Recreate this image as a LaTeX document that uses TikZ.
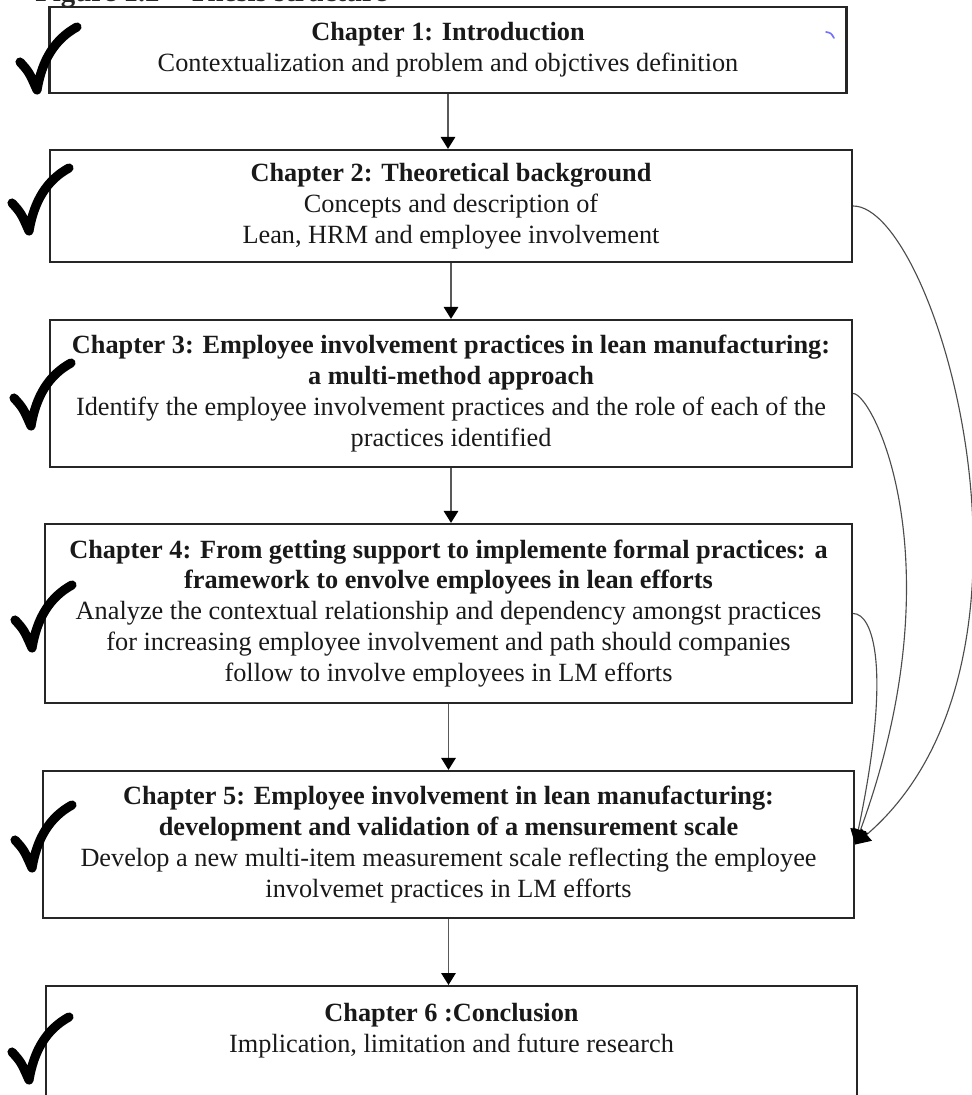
\documentclass[tikz,border=0pt]{standalone}
\usepackage{fontspec}
\setmainfont{Liberation Serif}
\usetikzlibrary{arrows.meta}
\tikzstyle{chapter}=[draw=black!85,line width=1.5pt,align=center,inner sep=0pt,text=black!90,font=\fontsize{18.7}{22}\selectfont]
\tikzstyle{flow}=[draw=black!65,line width=1.3pt,-{Triangle[width=0.36cm,length=0.3cm,color=black]}]
\tikzstyle{link}=[draw=black!70,line width=0.8pt,-{Triangle[width=0.4cm,length=0.38cm,color=black]}]
\tikzstyle{tickmark}=[draw=black,line width=6.5pt,line cap=round,line join=round]

\begin{document}
\begin{tikzpicture}[x=0.025cm,y=-0.025cm]
    \useasboundingbox (0,0) rectangle (971,1095);
    % heading, cut off by the top edge
    \node[anchor=base west,inner sep=0pt,text=black!85,font=\fontsize{20.5}{24}\selectfont\bfseries] (heading) at (35,2) {Figure 1.2 -- Thesis structure};

    % First the chapter boxes
    \node[chapter,line width=2pt,minimum width=19.9cm,minimum height=2.15cm] (ch1) at (448,50)
        {\textbf{Chapter 1: Introduction}\\ Contextualization and problem and objctives definition};
    \node[chapter,minimum width=20.05cm,minimum height=2.8cm] (ch2) at (451,206)
        {\textbf{Chapter 2: Theoretical background}\\ Concepts and description of\\ Lean, HRM and employee involvement};
    \node[chapter,minimum width=20.05cm,minimum height=3.675cm] (ch3) at (451,393.5)
        {\textbf{Chapter 3: Employee involvement practices in lean manufacturing:}\\ \textbf{a multi-method approach}\\
         Identify the employee involvement practices and the role of each of the\\ practices identified};
    \node[chapter,minimum width=20.175cm,minimum height=4.475cm] (ch4) at (448.5,613.5)
        {\textbf{Chapter 4: From getting support to implemente formal practices: a}\\ \textbf{framework to envolve employees in lean efforts}\\
         Analyze the contextual relationship and dependency amongst practices\\ for increasing employee involvement and path should companies\\ follow to involve employees in LM efforts};
    \node[chapter,minimum width=20.275cm,minimum height=3.675cm] (ch5) at (448.5,844.5)
        {\textbf{Chapter 5: Employee involvement in lean manufacturing:}\\ \textbf{development and validation of a mensurement scale}\\
         Develop a new multi-item measurement scale reflecting the employee\\ involvemet practices in LM efforts};
    \node[chapter,anchor=north,minimum width=20.275cm,inner ysep=12pt,text depth=3cm] (ch6) at (451.5,985)
        {\textbf{Chapter 6 :Conclusion}\\ Implication, limitation and future research};

    % Then the arrows from one chapter to the next
    \foreach \source/\dest in {ch1/ch2, ch2/ch3, ch3/ch4, ch4/ch5, ch5/ch6}
        \path[flow] (\source.south) -- (\source.south |- \dest.north);

    % chapters 2, 3 and 4 also feed chapter 5
    \path[link] (ch2.east) .. controls +(83,0) and +(214,-184) .. (ch5.east);
    \path[link] (ch3.east) .. controls +(20,0) and +(103,-282) .. (ch5.east);
    \path[link] (ch4.east) .. controls +(20,0) and +(37,-176) .. (ch5.east);

    % hand-drawn ticks
    \foreach \pos in {(20,62), (12,203), (14,398), (15,620), (15,840), (12,1052)}
        \draw[tickmark,shift={\pos}] (0,0) .. controls (9,10) .. (17,28) .. controls (22,-2) and (35,-23) .. (57,-35);

    \draw[blue!55,line width=1.2pt,line cap=round] (826,32) .. controls (831,33) .. (834,38);
\end{tikzpicture}
\end{document}
